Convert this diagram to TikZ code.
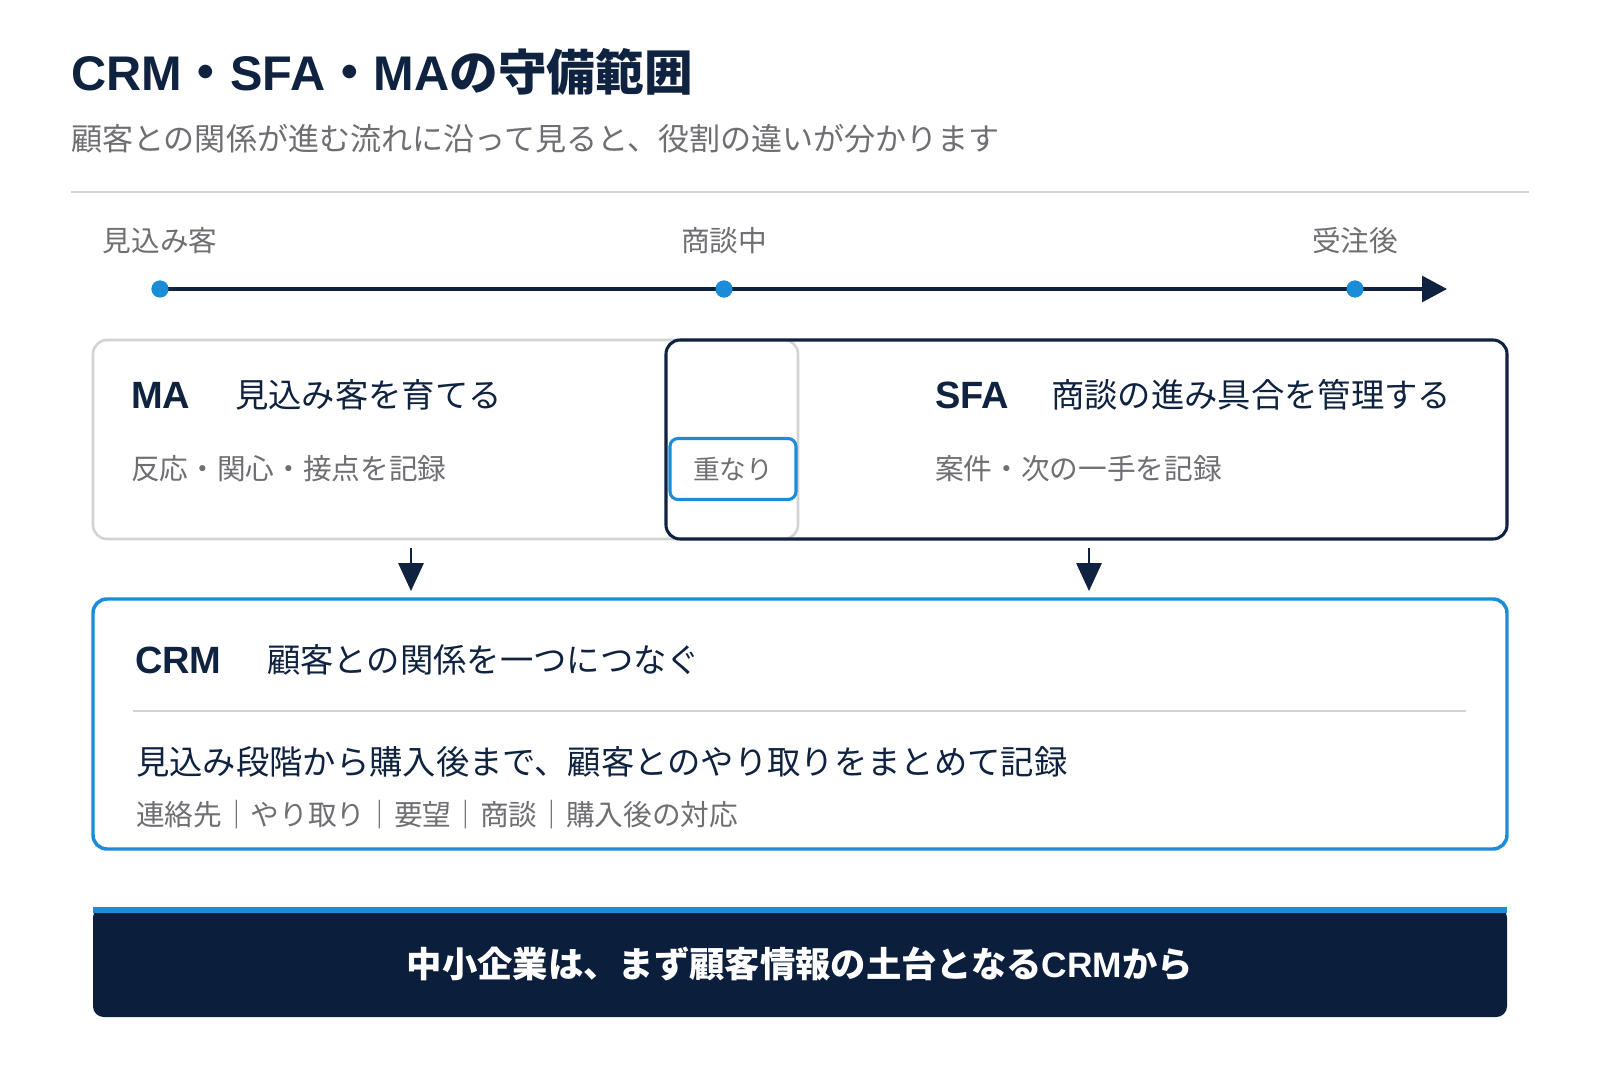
\documentclass[tikz,border=0pt]{standalone}
\usepackage{fontspec}
\setmainfont{Noto Sans CJK JP}
\newfontfamily\latinsans{Liberation Sans}
\usepackage{xcolor}
\usetikzlibrary{arrows.meta,fit,positioning}

\definecolor{navy}{HTML}{0F2341}
\definecolor{accent}{HTML}{1A8CD8}
\definecolor{softgray}{HTML}{6E6E73}
\definecolor{rulegray}{HTML}{D2D2D7}
\definecolor{banner}{HTML}{0B1E3C}

\tikzset{
  txt/.style={anchor=west, inner sep=0pt, outer sep=0pt},
  heading/.style={txt, text=navy, font=\fontsize{25}{30}\selectfont},
  tag/.style={txt, text=navy, font=\latinsans\bfseries\fontsize{28.5}{32}\selectfont},
  desc/.style={txt, text=softgray, font=\fontsize{21.5}{26}\selectfont},
  stage/.style={inner sep=0pt, text=softgray, font=\fontsize{21.5}{26}\selectfont},
  dot/.style={circle, fill=accent, inner sep=0pt, minimum size=12.75pt},
  panel/.style={rounded corners=10.5pt, inner sep=0pt, outer sep=0pt},
  darrow/.style={navy, line width=1.6pt, -{Triangle[length=21pt,width=19pt]}},
}

\begin{document}
\begin{tikzpicture}[x=0.75pt,y=-0.75pt]
		\fill[white] (0,0) rectangle (1600,1066);
		\useasboundingbox (0,0) rectangle (1600,1066);
		\node[txt, text=navy, font=\bfseries\fontsize{36.5}{42}\selectfont] (title) at (71,72) {{\latinsans CRM}・{\latinsans SFA}・{\latinsans MA}の守備範囲};
		\node[desc, font=\fontsize{23.3}{28}\selectfont] (subtitle) at (71,139) {顧客との関係が進む流れに沿って見ると、役割の違いが分かります};
		\draw[rulegray, line width=1.5pt] (71,192) -- (1529,192);
		\node[stage] (prospect) at (160,241) {見込み客};
		\node[stage] (deal) at (724,241) {商談中};
		\node[stage] (won) at (1355,241) {受注後};
		\coordinate (flowend) at (1447,289);
		\node[dot] (dprospect) at (160,289) {};
		\node[dot] (ddeal) at (724,289) {};
		\node[dot] (dwon) at (1355,289) {};
		\draw[navy, line width=2.3pt, -{Triangle[length=18.75pt,width=19.5pt]}] (dprospect.center) -- (flowend);
		\node[dot] at (dprospect) {};
		\node[dot] at (ddeal) {};
		\node[dot] at (dwon) {};
		\node[panel, draw=rulegray, line width=1.9pt, fit={(93,340) (798,539)}] (mabox) {};
		\node[panel, draw=navy, line width=2.3pt, fit={(666,340) (1507,539)}] (sfabox) {};
		\node[draw=accent, fill=white, line width=2.3pt, rounded corners=6pt, minimum width=94.5pt, minimum height=45.75pt, inner sep=0pt, text=softgray, font=\fontsize{20}{24}\selectfont] (overlap) at (733,469) {重なり};
		\node[tag] (malabel) at (131,395) {MA};
		\node[heading] (mahead) at (235,395) {見込み客を育てる};
		\node[desc] (madesc) at (131,469) {反応・関心・接点を記録};
		\node[tag] (sfalabel) at (935,395) {SFA};
		\node[heading] (sfahead) at (1051,395) {商談の進み具合を管理する};
		\node[desc] (sfadesc) at (935,469) {案件・次の一手を記録};
		\coordinate (maout) at (411,548);
		\coordinate (crmin) at (411,591);
		\coordinate (sfaout) at (1089,548);
		\coordinate (crmin2) at (1089,591);
		\draw[darrow] (maout) -- (crmin);
		\draw[darrow] (sfaout) -- (crmin2);
		\node[panel, draw=accent, line width=2.6pt, fit={(93,599) (1507,849)}] (crmbox) {};
		\node[tag] (crmlabel) at (135,660) {CRM};
		\node[heading] (crmhead) at (267,660) {顧客との関係を一つにつなぐ};
		\draw[rulegray, line width=1.5pt] (133,711) -- (1466,711);
		\node[heading] (crmmain) at (136,762) {見込み段階から購入後まで、顧客とのやり取りをまとめて記録};
		\node[desc] (crmtags) at (136,815) {連絡先｜やり取り｜要望｜商談｜購入後の対応};
		\fill[banner, rounded corners=8pt] (93,907) rectangle (1507,1017);
		\fill[accent] (93,907) rectangle (1507,913);
		\node[text=white, font=\bfseries\fontsize{26.5}{30}\selectfont] (message) at (800,964) {中小企業は、まず顧客情報の土台となる{\latinsans CRM}から};
\end{tikzpicture}
\end{document}
